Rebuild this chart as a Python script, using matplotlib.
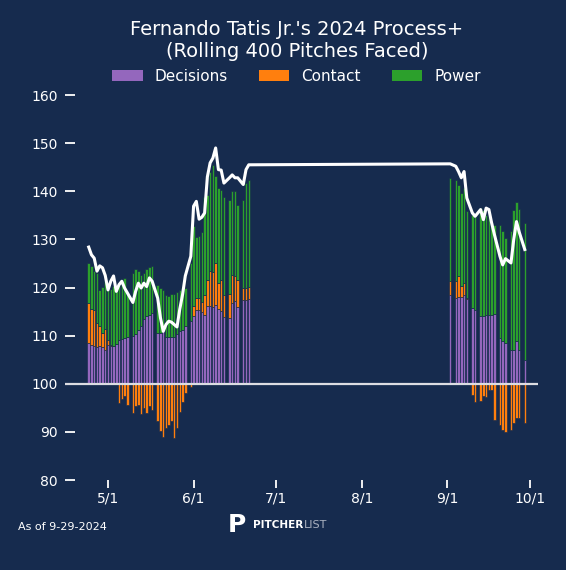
import numpy as np
import pandas as pd
import matplotlib
matplotlib.use('Agg')
import matplotlib.pyplot as plt

# game dates (rolling window values after each game)
dates = ['2024-04-24', '2024-04-25', '2024-04-26', '2024-04-27', '2024-04-28', '2024-04-29',
         '2024-04-30', '2024-05-01', '2024-05-02', '2024-05-03', '2024-05-04', '2024-05-05',
         '2024-05-06', '2024-05-07', '2024-05-08',
         '2024-05-10', '2024-05-11', '2024-05-12', '2024-05-13', '2024-05-14', '2024-05-15',
         '2024-05-16', '2024-05-17',
         '2024-05-19', '2024-05-20', '2024-05-21', '2024-05-22', '2024-05-23', '2024-05-24',
         '2024-05-25', '2024-05-26', '2024-05-27', '2024-05-28', '2024-05-29',
         '2024-05-31', '2024-06-01', '2024-06-02', '2024-06-03', '2024-06-04', '2024-06-05',
         '2024-06-06', '2024-06-07', '2024-06-08', '2024-06-09', '2024-06-10', '2024-06-11',
         '2024-06-12', '2024-06-14', '2024-06-15', '2024-06-16', '2024-06-17',
         '2024-06-19', '2024-06-20', '2024-06-21',
         '2024-09-02', '2024-09-04', '2024-09-05', '2024-09-06', '2024-09-07', '2024-09-08',
         '2024-09-10', '2024-09-11', '2024-09-13', '2024-09-14', '2024-09-15', '2024-09-16',
         '2024-09-17', '2024-09-18', '2024-09-20', '2024-09-21', '2024-09-22', '2024-09-24',
         '2024-09-25', '2024-09-26', '2024-09-27', '2024-09-29']

# component contributions above / below 100
decisions = [8.5, 8.0, 7.8, 7.6, 7.8, 7.6, 7.1, 8.1, 7.8, 7.9, 8.3, 9.0, 9.4, 9.6, 9.8,
             10.0, 10.4, 11.2, 12.0, 13.5, 14.0, 14.3, 14.7,
             10.5, 10.5, 10.9, 9.8, 9.8, 9.7, 9.8, 10.4, 10.9, 11.2, 11.9,
             13.0, 14.1, 15.4, 15.4, 15.0, 14.3, 16.1, 16.2, 15.9, 16.4, 15.5, 15.2, 13.9,
             13.7, 16.8, 17.1, 15.9, 17.5, 17.5, 17.7,
             18.5, 17.8, 18.0, 18.1, 18.5, 17.6, 15.7, 15.4, 14.0, 14.1, 14.2, 14.2,
             14.2, 14.4, 9.5, 8.8, 8.5, 7.1, 7.1, 8.8, 7.0, 5.0]
contact = [8.3, 7.5, 7.6, 5.0, 4.3, 2.9, 4.3, 1.0, 0.3, 0.0, 0.0, -3.9, -3.2, -2.6, -4.4,
           -6.0, -4.7, -4.5, -6.2, -5.0, -6.0, -4.7, -5.4,
           -7.8, -9.9, -11.0, -9.2, -8.5, -7.8, -11.3, -9.2, -5.8, -3.7, -1.9,
           -0.7, 2.0, 2.4, 2.4, 1.9, 4.2, 5.5, 7.2, 7.3, 8.7, 5.4, 6.3, 4.6,
           4.9, 5.7, 5.3, 5.6, 2.4, 2.4, 2.4,
           2.8, 3.5, 4.3, 2.3, 2.4, 0.3, -2.3, -3.7, -3.5, -2.5, -2.8, -1.3,
           -1.3, -7.5, -8.5, -9.6, -10.0, -9.6, -8.2, -7.1, -7.1, -8.2]
power = [8.3, 9.0, 8.0, 10.5, 7.4, 9.7, 9.9, 10.4, 11.5, 12.5, 12.0, 12.0, 11.4, 12.4, 9.0,
         13.0, 13.5, 12.3, 10.5, 9.5, 9.8, 10.0, 9.8,
         10.0, 9.5, 8.6, 8.7, 8.5, 8.9, 8.8, 8.6, 8.6, 8.6, 8.1,
         12.1, 16.6, 12.8, 13.0, 14.6, 20.4, 17.6, 20.7, 22.3, 18.0, 19.8, 18.8, 20.4,
         19.6, 17.5, 17.6, 15.7, 18.3, 21.8, 22.3,
         21.5, 21.1, 19.1, 19.2, 19.7, 17.9, 19.4, 19.3, 22.5, 22.1, 20.9, 20.6,
         19.2, 18.6, 23.5, 22.9, 21.8, 24.7, 29.1, 29.0, 29.4, 28.4]
# overall Process+ (line)
process_plus = [128.4, 126.8, 126.1, 123.4, 124.5, 124.1, 122.5, 119.5, 121.3, 122.4, 119.2,
                120.6, 121.3, 119.9, 118.9,
                116.9, 119.2, 120.9, 119.9, 120.9, 120.2, 122.0, 121.3,
                117.8, 113.7, 110.9, 112.3, 113.0, 112.8, 112.3, 111.8, 115.5, 118.5, 122.4,
                126.5, 136.9, 137.9, 134.2, 134.6, 135.5, 143.0, 145.9, 146.9, 149.0, 144.5,
                144.4, 141.7, 142.8, 143.4, 142.8, 142.8, 141.4, 144.5, 145.5,
                145.7, 145.2, 144.1, 142.8, 144.1, 138.6, 135.5, 134.8, 136.2, 134.1, 136.5,
                136.2, 133.4, 131.0, 126.5, 124.7, 126.0, 125.1, 130.0, 133.7, 131.5, 127.9]

tick_dates = ['2024-05-01', '2024-06-01', '2024-07-01', '2024-08-01', '2024-09-01', '2024-10-01']
tick_labels = ['5/1', '6/1', '7/1', '8/1', '9/1', '10/1']

bg = '#162b4e'
c_dec, c_con, c_pow = '#9467bd', '#ff7f0e', '#2ca02c'

x = pd.to_datetime(dates)
d = np.array(decisions)
c = np.array(contact)
p = np.array(power)

fig = plt.figure(figsize=(5.66, 5.70), dpi=100, facecolor=bg)
ax = fig.add_axes([65/566, 1-480/570, (538-65)/566, (480-85.4)/570])
ax.set_facecolor(bg)

bw = 0.9
ax.bar(x, d, bottom=100, width=bw, color=c_dec, edgecolor=bg, linewidth=0.45, label='Decisions')
c_bottom = np.where(c >= 0, 100 + d, 100)
ax.bar(x, c, bottom=c_bottom, width=bw, color=c_con, edgecolor=bg, linewidth=0.45, label='Contact')
ax.bar(x, p, bottom=100 + d + np.clip(c, 0, None), width=bw, color=c_pow, edgecolor=bg,
       linewidth=0.45, label='Power')

ax.axhline(100, color='#dcdde2', lw=1.6, zorder=3)
ax.plot(x, process_plus, color='white', lw=2.2, zorder=4, solid_joinstyle='round')

ax.set_xlim(pd.Timestamp('2024-04-15 10:00'), pd.Timestamp('2024-10-03 19:00'))
ax.set_ylim(80, 162)
ax.set_yticks(range(80, 161, 10))
ax.set_xticks(pd.to_datetime(tick_dates))
ax.set_xticklabels(tick_labels)
for s in ax.spines.values():
    s.set_visible(False)
ax.tick_params(axis='y', direction='in', length=7.5, width=1.3, colors='white', labelsize=10, pad=5)
ax.tick_params(axis='x', direction='out', length=5.5, width=1.3, colors='white', labelsize=10, pad=3)

fig.text(297/566, 1-35/570, "Fernando Tatis Jr.'s 2024 Process+", color='white', fontsize=14,
         ha='center', va='baseline')
fig.text(297/566, 1-56.7/570, "(Rolling 400 Pitches Faced)", color='white', fontsize=14,
         ha='center', va='baseline')

h, l = ax.get_legend_handles_labels()
leg = fig.legend(h, l, loc='center', bbox_to_anchor=(296.5/566, 1-76.5/570), ncol=3,
                 frameon=False, fontsize=11, labelcolor='white')
for hd in leg.legend_handles:
    hd.set_edgecolor('none')

# footer
fig.text(18/566, 1-527/570, 'As of 9-29-2024', color='white', fontsize=8, va='center')
fig.text(228/566, 1-525/570, 'P', color='white', fontsize=18, fontweight='bold', va='center')
t1 = fig.text(253/566, 1-525.5/570, 'PITCHER', color='white', fontsize=7.5, fontweight='bold',
              va='center')
fig.canvas.draw()
bb = t1.get_window_extent()
fig.text((bb.x1 + 1)/566, 1-525.5/570, 'LIST', color='#aab1c0', fontsize=8, va='center')

fig.savefig('out.png', dpi=100, facecolor=bg)
